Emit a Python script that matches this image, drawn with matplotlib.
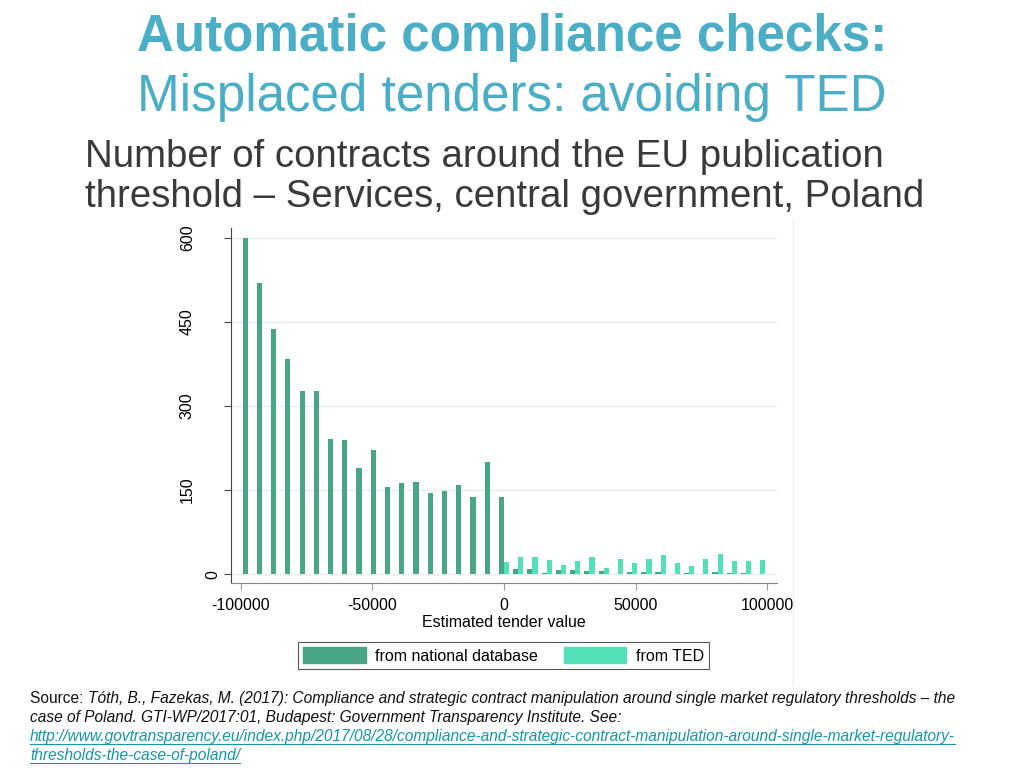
import numpy as np
import matplotlib
matplotlib.use("Agg")
import matplotlib.pyplot as plt
from matplotlib.lines import Line2D
from matplotlib.patches import Patch

plt.rcParams['font.family'] = ['Liberation Sans', 'DejaVu Sans']

# histogram: 37 bins over [-100000, 100000]
n_bins = 37
x_range = (-100000, 100000)

national = [600, 519, 437, 383, 326, 326, 241, 239, 190, 221, 156, 163, 165, 145, 148, 159, 138, 200,
            137, 9, 9, 2, 7, 7, 5, 5, 0, 4, 4, 4, 1, 2, 1, 4, 2, 3, 1]
ted = [0] * 18 + [22, 31, 31, 25, 17, 23, 30, 12, 27, 21, 27, 35, 21, 15, 28, 36, 23, 24, 25]

yticks = [0, 150, 300, 450, 600]
xticks = [-100000, -50000, 0, 50000, 100000]

title1 = "Automatic compliance checks:"
title2 = "Misplaced tenders: avoiding TED"
subtitle = "Number of contracts around the EU publication\nthreshold \u2013 Services, central government, Poland"

DARK = '#48a587'
LIGHT = '#52e0b7'
TITLE_C = '#4aaec6'
LINK_C = '#1597a5'

W, H = 1024, 768
fig = plt.figure(figsize=(W / 100, H / 100), dpi=100)


def fx(px):
    return px / W


def fy(py):
    return 1 - py / H


fig.text(fx(512), fy(37), title1, ha='center', va='center', fontsize=36.8, fontweight='bold', color=TITLE_C)
fig.text(fx(512), fy(98), title2, ha='center', va='center', fontsize=36.8, color=TITLE_C)
fig.text(fx(85), fy(177), subtitle, ha='left', va='center', fontsize=27.6, color='#3a3a3a', linespacing=1.15)

ax = fig.add_axes([fx(231), fy(583), (777 - 231) / W, (583 - 228) / H])

edges = np.linspace(x_range[0], x_range[1], n_bins + 1)
centers = (edges[:-1] + edges[1:]) / 2
bw = 1950
ax.bar(centers - bw / 2, national, width=bw, color=DARK, label='from national database', zorder=3)
ax.bar(centers + bw / 2, ted, width=bw, color=LIGHT, label='from TED', zorder=3)

ax.set_xlim(-103650, 103650)
ax.set_ylim(-15.5, 617)
ax.set_yticks(yticks)
ax.set_xticks(xticks)
ax.set_xticklabels([str(v) for v in xticks], fontsize=11.5)
# the "0" label sits closer to the axis in the original, drawn separately below
ax.set_yticklabels([str(v) if v != 0 else '' for v in yticks], fontsize=11.5, rotation=90, va='center')
ax.annotate(str(yticks[0]), xy=(0, yticks[0]), xycoords=('axes fraction', 'data'),
            xytext=(-13, 0), textcoords='offset points', rotation=90,
            ha='center', va='center', fontsize=11.5)
ax.tick_params(axis='y', length=5, pad=21, color='#444444')
ax.tick_params(axis='x', length=5, pad=6, color='#999999')
ax.grid(axis='y', color='#e6eded', linewidth=1, zorder=0)
for s in ['top', 'right']:
    ax.spines[s].set_visible(False)
ax.spines['left'].set_color('#444444')
ax.spines['bottom'].set_color('#888888')
ax.set_xlabel('Estimated tender value', fontsize=11.5, labelpad=1)

handles = [Patch(color=DARK), Patch(color=LIGHT)]
leg = fig.legend(handles, ['from national database', 'from TED'], loc='center',
                 bbox_to_anchor=(fx(503.5), fy(655.5)), ncol=2, fontsize=11.5,
                 handlelength=3.9, handleheight=1.1, handletextpad=0.6, columnspacing=1.6,
                 fancybox=False, edgecolor='#555555', framealpha=1, borderpad=0.35)
leg.get_frame().set_linewidth(0.8)

# faint graph region border
fig.add_artist(Line2D([fx(793), fx(793)], [fy(220), fy(685)], color='#efefef', lw=1))

# source note
fs = 11.2
t0 = fig.text(fx(30), fy(703), "Source: ", fontsize=fs, va='baseline', color='#111111')
fig.canvas.draw()
bb = t0.get_window_extent()
fig.text(bb.x1 / W, fy(703),
         "T\u00f3th, B., Fazekas, M. (2017): Compliance and strategic contract manipulation around single market regulatory thresholds \u2013 the",
         fontsize=fs, va='baseline', style='italic', color='#111111')
fig.text(fx(30), fy(722), "case of Poland. GTI-WP/2017:01, Budapest: Government Transparency Institute. See:",
         fontsize=fs, va='baseline', style='italic', color='#111111')
links = ["http://www.govtransparency.eu/index.php/2017/08/28/compliance-and-strategic-contract-manipulation-around-single-market-regulatory-",
         "thresholds-the-case-of-poland/"]
link_texts = []
for i, s in enumerate(links):
    link_texts.append(fig.text(fx(30), fy(741 + 19 * i), s, fontsize=fs, va='baseline', style='italic', color=LINK_C))
fig.canvas.draw()
for i, t in enumerate(link_texts):
    b = t.get_window_extent()
    yb = fy(741 + 19 * i + 2.5)
    fig.add_artist(Line2D([b.x0 / W, b.x1 / W], [yb, yb], color=LINK_C, lw=0.8))

fig.savefig('out.png', dpi=100)
